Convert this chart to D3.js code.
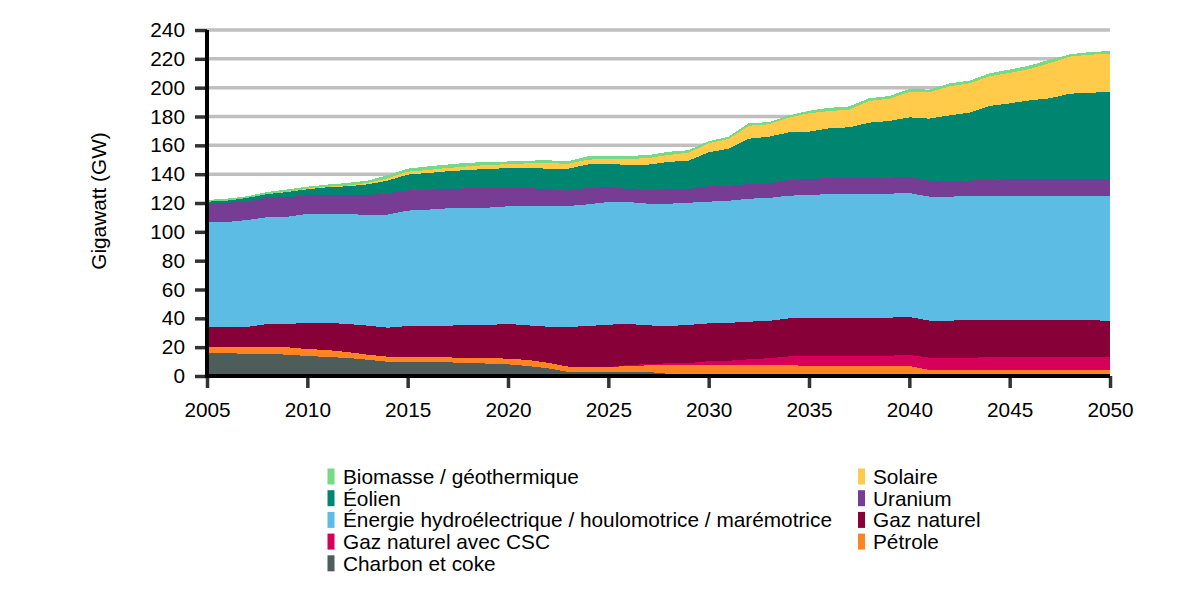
<!DOCTYPE html>
<html>
<head>
<meta charset="utf-8">
<script src="https://cdn.jsdelivr.net/npm/d3@7"></script>
<style>
  html, body { margin: 0; padding: 0; background: #fff; }
  svg { display: block; font-family: "Liberation Sans", Arial, sans-serif; }
</style>
</head>
<body>
<svg id="chart" width="1200" height="600"></svg>
<script>
// ---------- DATA (GW) ----------
const years = [2005,2006,2007,2008,2009,2010,2011,2012,2013,2014,
               2015,2016,2017,2018,2019,2020,2021,2022,2023,2024,
               2025,2026,2027,2028,2029,2030,2031,2032,2033,2034,
               2035,2036,2037,2038,2039,2040,2041,2042,2043,2044,
               2045,2046,2047,2048,2049,2050];

const charbon = [15.7,15.7,15.5,15.3,14.8,13.9,13.2,12.5,11.3,9.9,
                 9.7,9.7,9.5,9.0,8.6,8.1,6.9,5.3,2.8,2.8,
                 2.8,2.8,2.8,1.5,1.5,1.5,1.5,1.5,1.5,1.5,
                 1.5,0,0,0,0,0,0,0,0,0,
                 0,0,0,0,0,0];
const petrole = [4.4,4.4,4.6,4.8,5.1,4.8,4.8,4.1,3.5,3.5,
                 3.5,3.5,3.4,3.5,3.9,3.9,4.2,3.9,3.7,3.4,
                 3.4,4.1,4.6,6.1,6.1,6.1,6.1,6.1,6.1,6.1,
                 5.4,6.9,6.9,6.9,6.9,6.9,4.2,4.2,4.2,4.2,
                 4.2,4.2,4.2,4.2,4.2,4.2];
const gazCSC = [0,0,0,0,0,0,0,0,0,0,
                0,0,0,0,0,0,0,0,0,0,
                0,0.7,0.9,1.2,1.4,2.6,3.0,4.0,4.7,6.0,
                7.0,7.0,7.0,7.0,7.2,7.7,8.5,8.3,8.5,8.8,
                8.8,8.8,8.8,8.8,8.8,8.8];
const gazNaturel = [13.9,13.9,13.9,16.0,16.2,18.1,18.8,19.5,20.1,20.1,
                    21.5,21.5,22.0,22.9,22.9,24.1,24.0,25.0,27.5,28.5,
                    29.4,28.5,26.8,25.9,26.4,26.3,26.2,26.1,25.9,26.4,
                    26.3,26.3,26.3,26.3,26.4,26.3,25.7,25.9,26.1,25.8,
                    25.8,25.8,25.8,25.8,25.8,25.2];
const hydro = [72.8,72.8,74.2,74.0,74.4,75.6,75.6,76.3,76.8,78.4,
               80.0,80.7,81.4,81.1,81.4,81.6,82.8,83.7,83.9,84.4,
               85.1,84.6,84.4,84.8,84.8,84.4,84.8,85.3,85.3,85.1,
               85.3,86.0,86.0,86.0,86.0,86.0,86.0,86.0,86.1,86.1,
               86.1,86.1,86.1,86.1,86.1,86.7];
const uranium = [13.0,13.4,12.7,13.6,13.4,12.9,13.1,13.1,13.8,14.6,
                 14.1,13.8,13.4,13.7,13.6,12.8,12.5,11.6,10.7,11.3,
                 10.4,9.0,9.5,10.0,9.3,10.7,10.2,10.2,9.9,10.9,
                 11.1,11.1,11.1,11.1,11.1,11.1,11.1,10.9,10.6,11.1,
                 11.5,11.7,11.7,11.7,11.7,11.7];
const eolien = [1.1,1.4,2.6,2.5,3.7,4.2,5.4,6.1,7.4,9.0,
                10.9,11.6,12.3,12.7,13.2,13.7,13.9,14.3,15.2,16.4,
                16.0,16.7,17.6,19.0,19.9,23.5,25.9,31.4,32.6,33.0,
                32.9,34.5,35.2,38.4,39.3,41.4,43.0,45.5,47.2,51.3,
                52.7,54.6,56.0,59.2,59.9,60.4];
const solaire = [0,0,0,0,0.2,0.4,0.4,0.5,1.0,1.6,
                 2.0,2.1,2.3,2.5,2.8,2.7,3.2,3.7,3.5,3.3,
                 3.4,4.1,4.6,4.8,5.5,6.3,6.7,9.0,8.6,10.2,
                 12.7,12.0,12.2,15.1,15.4,17.6,18.3,20.1,20.3,20.6,
                 21.1,21.7,24.5,25.7,26.4,26.4];
const biomasse = [1.2,1.4,1.2,1.4,1.6,1.4,1.5,1.8,1.6,2.2,
                  2.1,2.5,2.4,2.5,2.0,1.9,1.9,2.1,1.7,2.3,
                  2.4,2.1,2.1,2.2,1.7,1.5,1.6,1.7,1.5,1.6,
                  1.8,2.2,2.3,1.9,1.9,2.1,1.8,2.1,1.9,2.0,
                  2.4,2.5,2.3,1.6,1.8,2.0];

const yTicks = [0,20,40,60,80,100,120,140,160,180,200,220,240];
const xTicks = [2005,2010,2015,2020,2025,2030,2035,2040,2045,2050];

// series: stack order bottom -> top
const seriesKeys   = ["charbon","petrole","gazCSC","gazNaturel","hydro","uranium","eolien","solaire","biomasse"];
const seriesValues = [charbon, petrole, gazCSC, gazNaturel, hydro, uranium, eolien, solaire, biomasse];
const seriesNames  = ["Charbon et coke","Pétrole","Gaz naturel avec CSC","Gaz naturel",
                      "Énergie hydroélectrique / houlomotrice / marémotrice","Uranium","Éolien","Solaire","Biomasse / géothermique"];
const seriesColors = ["#4d5e5a","#fe8323","#d6005b","#870037","#5cbce4","#773c93","#008571","#ffcb48","#76d985"];

// legend layout (order as in reference)
const legendCol1 = ["biomasse","eolien","hydro","gazCSC","charbon"];
const legendCol2 = ["solaire","uranium","gazNaturel","petrole"];

// ---------- CHART ----------
const FONT = "20.8px";
const svg = d3.select("#chart");
const x = d3.scaleLinear().domain([2005, 2050]).range([207, 1110]);
const y = d3.scaleLinear().domain([0, 240]).range([376, 30]);

const table = years.map((yr, i) => {
  const row = { year: yr };
  seriesKeys.forEach((k, j) => row[k] = seriesValues[j][i]);
  return row;
});

const stack = d3.stack().keys(seriesKeys).order(d3.stackOrderNone).offset(d3.stackOffsetNone);
const stacked = stack(table);

// gridlines
svg.append("g").selectAll("line")
  .data(yTicks.filter(v => v > 0))
  .join("line")
  .attr("x1", x(2005)).attr("x2", x(2050))
  .attr("y1", d => y(d)).attr("y2", d => y(d))
  .attr("stroke", "#bfbfbf").attr("stroke-width", 3.5);

// areas
const area = d3.area()
  .x(d => x(d.data.year))
  .y0(d => y(d[0]))
  .y1(d => y(d[1]))
  .curve(d3.curveLinear);

svg.append("g").selectAll("path")
  .data(stacked)
  .join("path")
  .attr("d", area)
  .attr("fill", (d, i) => seriesColors[i])
  .attr("shape-rendering", "crispEdges");

// y axis
const yAxis = d3.axisLeft(y).tickValues(yTicks).tickSize(12).tickSizeOuter(0).tickPadding(10);
const gy = svg.append("g").attr("transform", `translate(${x(2005)},0)`).call(yAxis);
gy.select(".domain").remove();
gy.selectAll(".tick line").attr("stroke", "#333").attr("stroke-width", 3.5);
gy.selectAll(".tick text").attr("font-size", FONT).attr("fill", "#000")
  .attr("font-family", "'Liberation Sans', Arial, sans-serif");
gy.append("line").attr("x1", 0).attr("x2", 0).attr("y1", y(240)).attr("y2", y(0) + 2)
  .attr("stroke", "#000").attr("stroke-width", 4);

// x axis
const xAxis = d3.axisBottom(x).tickValues(xTicks).tickFormat(d3.format("d")).tickSize(12).tickSizeOuter(0).tickPadding(14);
const gx = svg.append("g").attr("transform", `translate(0,${y(0)})`).call(xAxis);
gx.select(".domain").remove();
gx.selectAll(".tick line").attr("stroke", "#333").attr("stroke-width", 3.5);
gx.selectAll(".tick text").attr("font-size", FONT).attr("fill", "#000")
  .attr("font-family", "'Liberation Sans', Arial, sans-serif");
gx.append("line").attr("x1", x(2005) - 2).attr("x2", x(2050)).attr("y1", 0).attr("y2", 0)
  .attr("stroke", "#000").attr("stroke-width", 4);

// y title
svg.append("text")
  .attr("transform", "translate(106,201) rotate(-90)")
  .attr("text-anchor", "middle")
  .attr("font-size", FONT)
  .attr("fill", "#000")
  .text("Gigawatt (GW)");

// legend
const rowY0 = 476.5, rowStep = 21.7;
function drawLegendCol(keys, rectX, textX) {
  keys.forEach((k, i) => {
    const j = seriesKeys.indexOf(k);
    const cy = rowY0 + i * rowStep;
    svg.append("rect")
      .attr("x", rectX).attr("y", cy - 8).attr("width", 7).attr("height", 16)
      .attr("fill", seriesColors[j]);
    svg.append("text")
      .attr("x", textX).attr("y", cy + 7.3)
      .attr("font-size", FONT).attr("fill", "#000")
      .text(seriesNames[j]);
  });
}
drawLegendCol(legendCol1, 327.5, 343);
drawLegendCol(legendCol2, 858, 873);
</script>
</body>
</html>
